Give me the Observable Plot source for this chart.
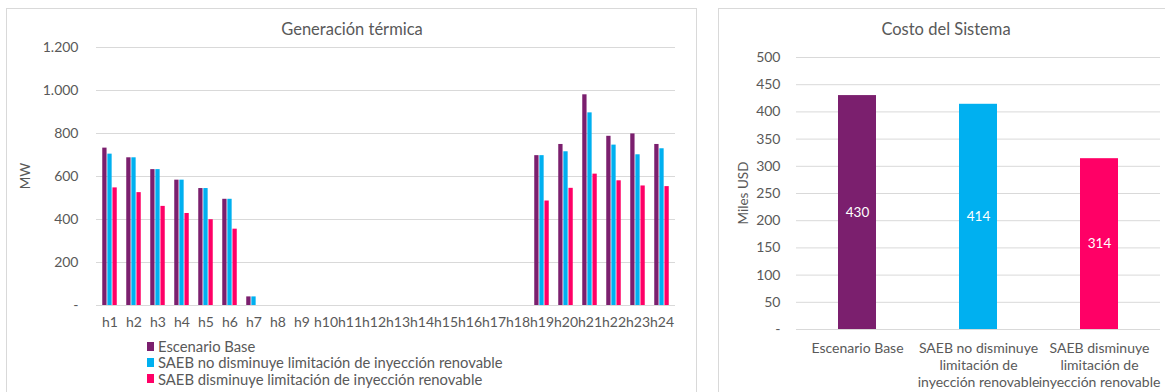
<!DOCTYPE html>
<html><head><meta charset="utf-8">
<script src="https://cdn.jsdelivr.net/npm/d3@7"></script>
<script src="https://cdn.jsdelivr.net/npm/@observablehq/plot@0.6"></script>
<style>
body{margin:0;background:#fff;font-family:Lato, sans-serif;color:#595959;}
#wrap{position:relative;width:1165px;height:392px;overflow:hidden;}
.panel{position:absolute;border:1px solid #d9d9d9;box-sizing:border-box;}
.title{position:absolute;font-size:16.5px;color:#595959;transform:translate(-50%,-50%);white-space:nowrap;}
.ylab{position:absolute;font-size:13.5px;color:#595959;transform:translate(-50%,-50%) rotate(-90deg);white-space:nowrap;}
.legend{position:absolute;left:147px;top:338px;font-size:14.8px;line-height:16.3px;}
.legend .row{display:flex;align-items:center;white-space:nowrap;}
.legend .sw{width:7px;height:9px;margin-right:4px;display:inline-block;}
#left,#right{position:absolute;top:0;}
#left{left:0;} #right{left:700px;}
svg{overflow:visible;}
</style></head><body><div id="wrap">
<div class="panel" style="left:6px;top:8px;width:691px;height:400px;"></div>
<div class="panel" style="left:718px;top:8px;width:460px;height:400px;"></div>
<div id="left"></div>
<div id="right"></div>
<div class="title" style="left:352px;top:29px;">Generación térmica</div>
<div class="title" style="left:946px;top:29px;">Costo del Sistema</div>
<div class="ylab" style="left:25px;top:176px;">MW</div>
<div class="ylab" style="left:743px;top:193px;">Miles USD</div>
<div class="legend" id="legend"></div>
</div>
<script>
const hours = ["h1","h2","h3","h4","h5","h6","h7","h8","h9","h10","h11","h12","h13","h14","h15","h16","h17","h18","h19","h20","h21","h22","h23","h24"];
const scenarios = ["Escenario Base","SAEB no disminuye limitación de inyección renovable","SAEB disminuye limitación de inyección renovable"];
const colors = ["#7B1F6E","#00B0F0","#FF0066"];
const genBase   = [732,687,632,583,544,494,40,0,0,0,0,0,0,0,0,0,0,0,697,749,980,787,798,749];
const genNoDism = [704,687,632,583,544,494,40,0,0,0,0,0,0,0,0,0,0,0,697,715,896,746,701,729];
const genDism   = [547,525,461,428,399,355,0,0,0,0,0,0,0,0,0,0,0,0,486,545,611,580,556,553];
const costLabels = ["Escenario Base","SAEB no disminuye\nlimitación de\ninyección renovable","SAEB disminuye\nlimitación de\ninyección renovable"];
const costs = [430,414,314];
const genTicks = [0,200,400,600,800,1000,1200];
const costTicks = [0,50,100,150,200,250,300,350,400,450,500];

const fmt = d => d === 0 ? "-" : d3.format(",")(d).replace(/,/g, ".");
const series = [genBase, genNoDism, genDism];
const offsets = [-5.1, 0, 5.1];

const barMarks = series.map((vals, i) =>
  Plot.barY(hours.map((h, j) => ({hour: h, value: vals[j]})).filter(d => d.value > 0), {
    x: "hour", y: "value", fill: colors[i], dx: offsets[i], insetLeft: 0.35, insetRight: 0.35
  })
);

const left = Plot.plot({
  width: 700, height: 340,
  marginLeft: 96, marginRight: 25, marginTop: 47, marginBottom: 35,
  style: {fontFamily: "Lato, sans-serif", fontSize: "14px", color: "#595959", background: "transparent"},
  x: {domain: hours, paddingInner: 0.789, paddingOuter: 0.394},
  y: {domain: [0, 1200]},
  marks: [
    Plot.gridY(genTicks, {stroke: "#d9d9d9", strokeOpacity: 1, strokeWidth: 1}),
    Plot.axisY(genTicks, {tickSize: 0, tickPadding: 18, tickFormat: fmt, label: null, fill: "#595959"}),
    Plot.axisX({tickSize: 0, tickPadding: 12, label: null, fill: "#595959"}),
    ...barMarks
  ]
});
document.getElementById("left").appendChild(left);

const costData = costLabels.map((c, i) => ({cat: c, value: costs[i], color: colors[i]}));
const right = Plot.plot({
  width: 465, height: 392,
  marginLeft: 96, marginRight: 5, marginTop: 57, marginBottom: 63,
  style: {fontFamily: "Lato, sans-serif", fontSize: "14px", color: "#595959", background: "transparent"},
  x: {domain: costLabels, paddingInner: 0.69, paddingOuter: 0.345},
  y: {domain: [0, 500]},
  marks: [
    Plot.gridY(costTicks, {stroke: "#d9d9d9", strokeOpacity: 1, strokeWidth: 1}),
    Plot.axisY(costTicks, {tickSize: 0, tickPadding: 16, tickFormat: fmt, label: null, fill: "#595959"}),
    Plot.axisX({tickSize: 0, tickPadding: 11, label: null, fill: "#595959", lineHeight: 1.22}),
    Plot.barY(costData, {x: "cat", y: "value", fill: "color"}),
    Plot.text(costData, {x: "cat", y: d => d.value / 2, text: d => String(d.value), fill: "white", fontSize: 13.5})
  ]
});
document.getElementById("right").appendChild(right);

const lg = document.getElementById("legend");
scenarios.forEach((s, i) => {
  const r = document.createElement("div");
  r.className = "row";
  r.innerHTML = `<span class="sw" style="background:${colors[i]}"></span><span>${s}</span>`;
  lg.appendChild(r);
});
</script>
</body></html>
